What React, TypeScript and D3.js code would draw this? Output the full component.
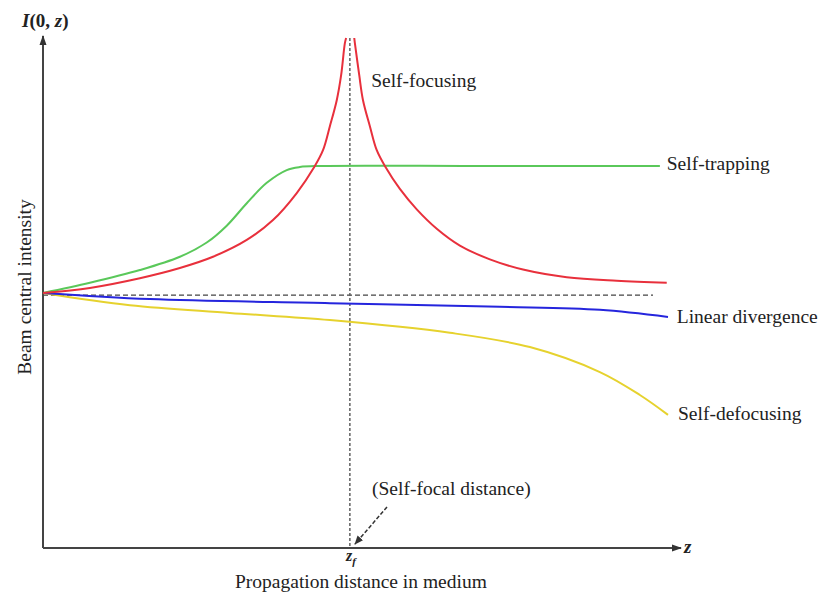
import React from "react";
import * as d3 from "d3";

const zf = 49.1;
const redLeftX = [0, 7.5, 15.5, 21.9, 27.2, 32.6, 36.8, 40.6, 43.4, 44.8, 45.9, 47.0, 47.7, 48.3, 48.5];
const redLeftY = [50, 51.0, 52.9, 54.9, 57.1, 60.4, 64.3, 69.6, 74.7, 78.0, 82.7, 87.8, 92.7, 99.0, 100];
const redRightX = [49.8, 49.9, 50.6, 51.2, 52.3, 53.4, 54.8, 57.1, 59.8, 63.0, 66.7, 71.5, 76.8, 83.8, 91.8, 99.8];
const redRightY = [100, 99.0, 92.7, 87.8, 82.7, 78.0, 74.7, 70.4, 66.4, 62.6, 59.3, 56.6, 54.6, 53.1, 52.4, 52.0];
const greenX = [0, 7.5, 15.5, 21.9, 26.2, 29.4, 32.6, 35.8, 39.0, 41.1, 44.3, 70, 98.7];
const greenY = [50, 52.0, 54.5, 57.1, 59.9, 63.2, 67.6, 71.6, 74.1, 74.7, 74.9, 74.9, 74.9];
const blueX = [0, 17.1, 45.9, 73.1, 89.1, 100];
const blueY = [50, 48.8, 48.0, 47.3, 46.7, 45.3];
const yellowX = [0, 13.9, 29.9, 45.9, 65.1, 77.9, 89.1, 95.5, 100];
const yellowY = [50, 47.6, 46.1, 44.7, 42.2, 39.4, 34.5, 30.0, 26.1];
const refLevel = 49.6;

const labels = [
  { text: "Self-focusing", x: 52.5, y: 90.4 },
  { text: "Self-trapping", x: 99.8, y: 74.1 },
  { text: "Linear divergence", x: 101.4, y: 44.1 },
  { text: "Self-defocusing", x: 101.6, y: 25.1 },
];

export default function App() {
  const W = 822, H = 600;
  const x = d3.scaleLinear().domain([0, 100]).range([43, 668]);
  const y = d3.scaleLinear().domain([0, 100]).range([548, 38]);
  const line = (xs: number[], ys: number[]) =>
    d3.line<number>().x((_, i) => x(xs[i])).y((_, i) => y(ys[i])).curve(d3.curveCatmullRom.alpha(0.5))(xs) || "";
  const font = "'Liberation Serif', 'Times New Roman', serif";
  const fs = 19.5;
  return (
    <svg width={W} height={H} style={{ position: "absolute", left: 0, top: 0, background: "#fff" }}>
      <defs>
        <marker id="ah" viewBox="0 0 10 10" refX="9" refY="5" markerWidth="10" markerHeight="10" orient="auto" markerUnits="userSpaceOnUse">
          <path d="M0,1.5 L10,5 L0,8.5 z" fill="#333" />
        </marker>
        <marker id="ah2" viewBox="0 0 10 10" refX="9" refY="5" markerWidth="9" markerHeight="9" orient="auto" markerUnits="userSpaceOnUse">
          <path d="M0,1 L10,5 L0,9 z" fill="#333" />
        </marker>
      </defs>
      {/* axes */}
      <line x1={43} y1={y(0)} x2={43} y2={36} stroke="#444" strokeWidth={2} markerEnd="url(#ah)" />
      <line x1={43} y1={y(0)} x2={681} y2={y(0)} stroke="#444" strokeWidth={2} markerEnd="url(#ah)" />
      {/* reference dashed lines */}
      <line x1={x(0)} y1={y(refLevel)} x2={x(97.6)} y2={y(refLevel)} stroke="#444" strokeWidth={1.2} strokeDasharray="5,3" />
      <line x1={x(zf)} y1={y(100)} x2={x(zf)} y2={y(0)} stroke="#555" strokeWidth={1.4} strokeDasharray="3,2" />
      {/* curves */}
      <path d={line(yellowX, yellowY)} fill="none" stroke="#e6d22e" strokeWidth={2} />
      <path d={line(blueX, blueY)} fill="none" stroke="#2525dd" strokeWidth={2} />
      <path d={line(greenX, greenY)} fill="none" stroke="#5ac85a" strokeWidth={2} />
      <path d={line(redLeftX, redLeftY)} fill="none" stroke="#e8303c" strokeWidth={2} />
      <path d={line(redRightX, redRightY)} fill="none" stroke="#e8303c" strokeWidth={2} />
      {/* focal pointer */}
      <line x1={387} y1={507} x2={355} y2={544} stroke="#333" strokeWidth={1.5} strokeDasharray="4,2" markerEnd="url(#ah2)" />
      {/* labels */}
      {labels.map((l) => (
        <text key={l.text} x={x(l.x)} y={y(l.y)} fontFamily={font} fontSize={fs} fill="#222">{l.text}</text>
      ))}
      <text x={372} y={495} fontFamily={font} fontSize={fs} fill="#222">(Self-focal distance)</text>
      <text x={346} y={561} fontFamily={font} fontSize={16} fontStyle="italic" fontWeight="bold" fill="#222">z<tspan fontSize={11} dy={4}>f</tspan></text>
      <text x={684} y={553} fontFamily={font} fontSize={19} fontStyle="italic" fontWeight="bold" fill="#222">z</text>
      <text x={235} y={588} fontFamily={font} fontSize={fs} fill="#222">Propagation distance in medium</text>
      <text transform="translate(31,287) rotate(-90)" textAnchor="middle" fontFamily={font} fontSize={fs} fill="#222">Beam central intensity</text>
      <text x={22} y={27} fontFamily={font} fontSize={19} fontStyle="italic" fontWeight="bold" fill="#222">I<tspan fontStyle="normal">(0, </tspan>z<tspan fontStyle="normal">)</tspan></text>
    </svg>
  );
}
